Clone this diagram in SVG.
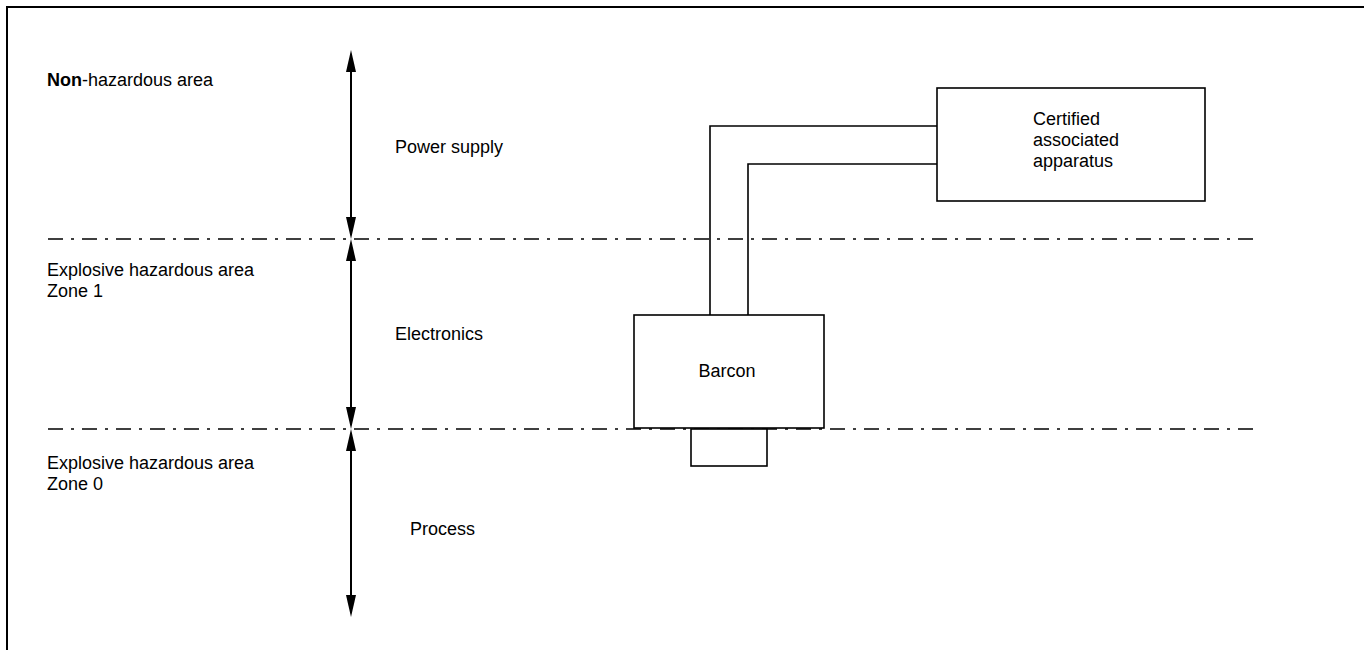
<svg xmlns="http://www.w3.org/2000/svg" width="1364" height="650" viewBox="0 0 1364 650">
<defs>
<style>
text{font-family:"Liberation Sans",Arial,sans-serif;font-size:18px;fill:#000}
.box{fill:#fff;stroke:#000;stroke-width:1.6}
.wire{fill:none;stroke:#000;stroke-width:1.6}
.zone{stroke:#000;stroke-width:1.6;stroke-dasharray:15 8 3 8}
.arr{stroke:#000;stroke-width:2}
</style>
</defs>
<rect width="1364" height="650" fill="#fff"/>
<g id="frame">
<path d="M7 650 V7 H1364" fill="none" stroke="#000" stroke-width="2"/>
</g>
<g id="zones">
<line class="zone" x1="48" y1="239" x2="1256" y2="239"/>
<line class="zone" x1="48" y1="429" x2="1256" y2="429"/>
</g>
<g id="labels">
<text x="47" y="86"><tspan font-weight="bold">Non</tspan>-hazardous area</text>
<text x="47" y="276">Explosive hazardous area</text>
<text x="47" y="297">Zone 1</text>
<text x="47" y="469">Explosive hazardous area</text>
<text x="47" y="490">Zone 0</text>
<text x="395" y="153">Power supply</text>
<text x="395" y="340">Electronics</text>
<text x="410" y="535">Process</text>
</g>
<g id="arrows">
<line class="arr" x1="351" y1="70" x2="351" y2="219"/>
<polygon points="351,50 346,72 356,72"/>
<polygon points="351,239 346,217 356,217"/>
<line class="arr" x1="351" y1="260" x2="351" y2="409"/>
<polygon points="351,239 346,261 356,261"/>
<polygon points="351,429 346,407 356,407"/>
<line class="arr" x1="351" y1="450" x2="351" y2="597"/>
<polygon points="351,429 346,451 356,451"/>
<polygon points="351,617 346,595 356,595"/>
</g>
<g id="connectors">
<path class="wire" d="M710 315 V126 H937"/>
<path class="wire" d="M748 315 V164 H937"/>
</g>
<g id="certified">
<rect class="box" x="937" y="88" width="268" height="113"/>
<text x="1033" y="125">Certified</text>
<text x="1033" y="146">associated</text>
<text x="1033" y="167">apparatus</text>
</g>
<g id="barcon">
<rect class="box" x="634" y="315" width="190" height="113"/>
<text x="727" y="377" text-anchor="middle">Barcon</text>
</g>
<g id="sensor">
<rect class="box" x="691" y="429" width="76" height="37"/>
</g>
</svg>
